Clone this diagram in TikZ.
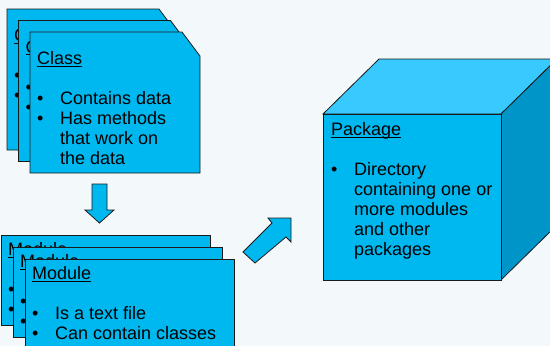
\documentclass[tikz,border=0pt]{standalone}
\usepackage{fontspec}
\setmainfont{Liberation Sans}
\usepackage{tikz}

\definecolor{cardblue}{HTML}{00B8F0}
\definecolor{cubetop}{HTML}{38C9FF}
\definecolor{cubeside}{HTML}{0095C8}
\definecolor{bgpale}{HTML}{F3F8FB}
\definecolor{edgegray}{HTML}{1A1A1A}

% underlined title, rule a bit under the baseline
\newcommand{\ttl}[1]{\setbox0\hbox{#1}\rlap{\rule[-2pt]{\wd0}{1pt}}\box0}
% one bullet with hanging indent
\newcommand{\bitem}[1]{\par\noindent\hangindent=23pt\hangafter=1\makebox[23pt][l]{\textbullet}#1}
% title, blank line, bullets
\newcommand{\cardbody}[2]{\vtop{\hsize=220pt\fontsize{18}{20}\selectfont\parskip=0pt\noindent\ttl{#1}\par\vskip20pt #2\par}}

\begin{document}
\begin{tikzpicture}[x=1pt,y=-1pt,
							card/.style={fill=cardblue, draw=edgegray, line width=0.8pt},
							cardtext/.style={anchor=base west, inner sep=0pt},
							]
							\useasboundingbox (0,0) rectangle (550,346);
							\clip (0,0) rectangle (550,346);
							\fill[bgpale] (0,0) rectangle (550,346);

							%Class cards
							\draw[card] (7,9) -- ++(152,0) -- ++(18,24) -- ++(0,117) -- ++(-170,0) -- cycle;
							\node[cardtext]      (cls1) 	at 	(14,41.5)      {\cardbody{Class}{\bitem{Contains data}\bitem{Has methods\\that work on\\the data}}};
							\draw[card] (18.5,20.5) -- ++(152,0) -- ++(18,24) -- ++(0,117) -- ++(-170,0) -- cycle;
							\node[cardtext]      (cls2) 	at 	(25.5,53)      {\cardbody{Class}{\bitem{Contains data}\bitem{Has methods\\that work on\\the data}}};
							\draw[card] (30,32) -- ++(152,0) -- ++(18,24) -- ++(0,117) -- ++(-170,0) -- cycle;
							\node[cardtext]      (cls3) 	at 	(37,64.5)      {\cardbody{Class}{\bitem{Contains data}\bitem{Has methods\\that work on\\the data}}};

							%Down arrow
							\draw[card] (92,184) -- (107,184) -- (107,210) -- (114,210) -- (99.5,223) -- (85,210) -- (92,210) -- cycle;

							%Module cards
							\draw[card] (1,235) rectangle ++(209,90);
							\node[cardtext]      (mod1) 	at 	(8,255.5)      {\cardbody{Module}{\bitem{Is a text file}\bitem{Can contain classes}}};
							\draw[card] (13,247) rectangle ++(209,90);
							\node[cardtext]      (mod2) 	at 	(20,267.5)     {\cardbody{Module}{\bitem{Is a text file}\bitem{Can contain classes}}};
							\draw[card] (25,259) rectangle ++(209,90);
							\node[cardtext]      (mod3) 	at 	(32,279.5)     {\cardbody{Module}{\bitem{Is a text file}\bitem{Can contain classes}}};

							%Up-right arrow
							\draw[card] (243,252) -- (272,223) -- (268,218) -- (291,218) -- (291,242) -- (286,237) -- (255,263) -- cycle;

							%Package cube
							\draw[card, fill=cubetop] (323,114) -- (379,59) -- (557,59) -- (501,114) -- cycle;
							\draw[card, fill=cubeside] (501,114) -- (557,59) -- (557,225) -- (501,280) -- cycle;
							\draw[card] (323,114) rectangle (501,280);
							\node[cardtext]      (pkg) 	at 	(331,135.5)    {\cardbody{Package}{\bitem{Directory\\containing one or\\more modules\\and other\\packages}}};
\end{tikzpicture}
\end{document}
